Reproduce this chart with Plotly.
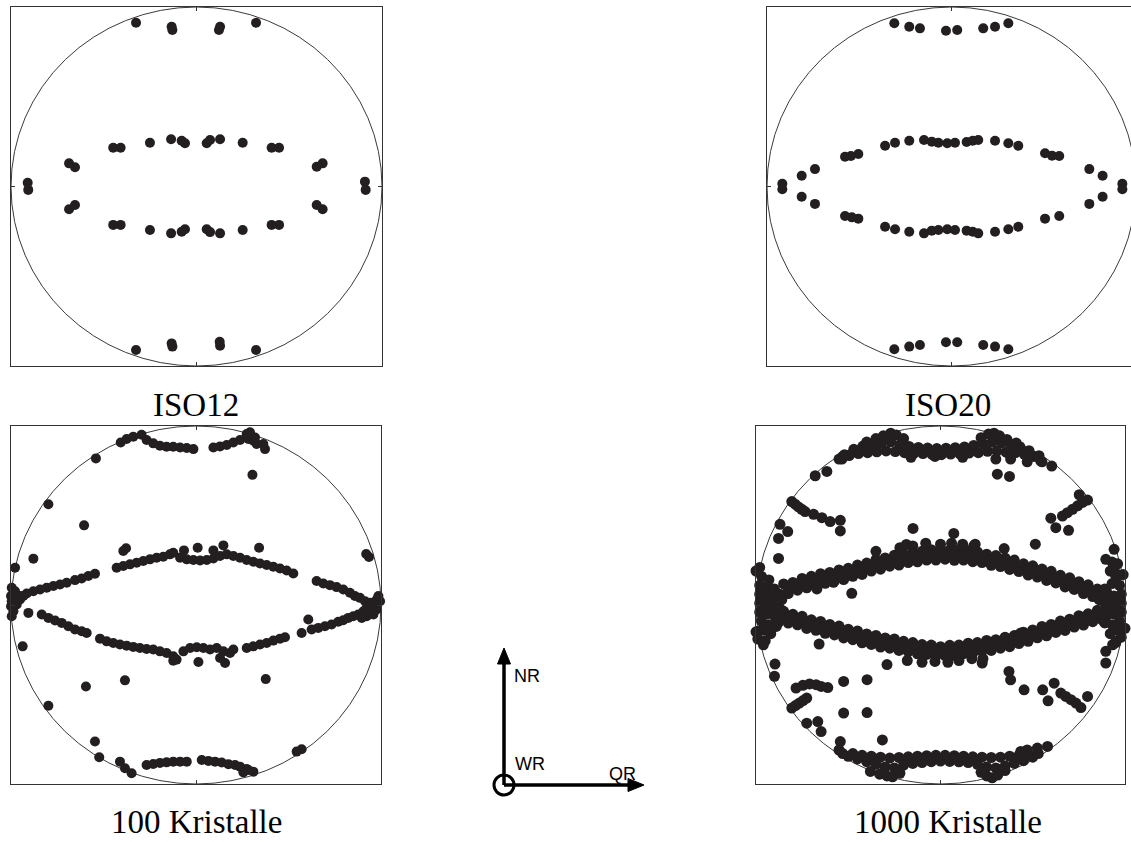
import plotly.graph_objects as go

W, H = 1131, 842

# ---------------- data (projection coordinates, unit circle) ----------------
# ISO12
tl_points = [(-0.326, 0.912), (-0.134, 0.890), (-0.130, 0.872), (0.127, 0.890), (0.121, 0.872), (0.321, 0.912),
             (-0.326, -0.911), (-0.134, -0.874), (-0.130, -0.892), (0.125, -0.865), (0.127, -0.887), (0.321, -0.911),
             (-0.449, 0.216), (-0.409, 0.216), (-0.251, 0.244), (-0.137, 0.263), (-0.080, 0.255), (-0.062, 0.241),
             (0.055, 0.241), (0.073, 0.259), (0.127, 0.263), (0.249, 0.244), (0.405, 0.216), (0.445, 0.216),
             (-0.687, 0.129), (-0.655, 0.107), (0.648, 0.110), (0.680, 0.129), (-0.910, 0.021), (-0.907, -0.019),
             (0.908, 0.027), (0.912, -0.019), (-0.687, -0.127), (-0.655, -0.103), (0.648, -0.103), (0.680, -0.127),
             (-0.449, -0.214), (-0.409, -0.214), (-0.251, -0.242), (-0.137, -0.261), (-0.080, -0.252), (-0.062, -0.238),
             (0.055, -0.238), (0.073, -0.254), (0.127, -0.261), (0.249, -0.242), (0.405, -0.214), (0.445, -0.214)]

# ISO20
tr_row_x = [-0.310, -0.229, -0.171, -0.030, 0.031, 0.172, 0.236, 0.308]
tr_top_y = [0.909, 0.890, 0.881, 0.868, 0.872, 0.881, 0.890, 0.909]
tr_bot_y = [-0.907, -0.892, -0.883, -0.868, -0.868, -0.883, -0.892, -0.907]
tr_mid_x = [-0.360, -0.306, -0.229, -0.149, -0.107, -0.071, -0.023, 0.019, 0.082, 0.115, 0.145, 0.236, 0.308, 0.362]
tr_mid_up_y = [0.227, 0.244, 0.255, 0.259, 0.250, 0.244, 0.241, 0.244, 0.248, 0.255, 0.259, 0.255, 0.241, 0.227]
tr_mid_lo_y = [-0.224, -0.238, -0.252, -0.261, -0.246, -0.242, -0.238, -0.242, -0.246, -0.252, -0.261, -0.252, -0.238, -0.224]
tr_side_points = [(-0.577, 0.166), (-0.545, 0.170), (-0.505, 0.181), (0.507, 0.185), (0.545, 0.172), (0.584, 0.170),
                  (-0.577, -0.164), (-0.505, -0.179), (-0.540, -0.172), (0.507, -0.179), (0.584, -0.164),
                  (-0.740, 0.097), (-0.812, 0.060), (-0.917, 0.015), (-0.917, -0.015), (-0.812, -0.057), (-0.740, -0.097),
                  (0.747, 0.097), (0.819, 0.060), (0.926, 0.015), (0.926, -0.015), (0.819, -0.057), (0.747, -0.097)]

# 100 Kristalle
bl_top_band = [(-0.407, 0.908), (-0.375, 0.927), (-0.339, 0.940), (-0.294, 0.951), (-0.267, 0.922), (-0.231, 0.903),
               (-0.195, 0.890), (-0.159, 0.884), (-0.123, 0.884), (-0.086, 0.880), (-0.050, 0.877), (-0.014, 0.871),
               (0.094, 0.880), (0.130, 0.886), (0.166, 0.894), (0.202, 0.908), (0.238, 0.922), (0.274, 0.955),
               (0.283, 0.927), (0.310, 0.918), (0.328, 0.899), (0.364, 0.899), (0.373, 0.871), (0.319, 0.936), (0.292, 0.965)]
bl_outliers = [(-0.541, 0.819), (0.305, 0.727), (-0.798, 0.563), (-0.605, 0.445), (-0.879, 0.259), (-0.978, 0.208),
               (0.935, 0.268), (0.920, 0.285), (0.341, 0.320), (0.009, 0.320), (-0.065, 0.305), (0.148, 0.333), (0.094, 0.305),
               (-0.378, 0.317), (-0.393, 0.302), (-0.937, -0.231), (-0.595, -0.455), (-0.384, -0.421), (-0.798, -0.563),
               (0.377, -0.414), (-0.546, -0.763), (-0.523, -0.851), (-0.411, -0.875), (-0.384, -0.912), (-0.348, -0.940),
               (0.571, -0.806), (0.544, -0.819)]
bl_upper_arc = [(-0.429, 0.208), (-0.393, 0.218), (-0.357, 0.227), (-0.321, 0.236), (-0.285, 0.246), (-0.249, 0.255),
                (-0.213, 0.264), (-0.177, 0.270), (-0.141, 0.283), (-0.123, 0.292), (-0.086, 0.264), (-0.050, 0.255),
                (-0.014, 0.251), (0.022, 0.249), (0.058, 0.251), (0.094, 0.260), (0.130, 0.274), (0.166, 0.283),
                (0.202, 0.274), (0.238, 0.264), (0.274, 0.251), (0.310, 0.242), (0.346, 0.232), (0.382, 0.223),
                (0.418, 0.214), (0.454, 0.204), (0.490, 0.193), (0.526, 0.176)]
bl_left_band = [(-0.987, 0.031), (-0.951, 0.050), (-0.915, 0.064), (-0.879, 0.077), (-0.843, 0.087), (-0.807, 0.096),
                (-0.771, 0.106), (-0.735, 0.115), (-0.699, 0.124), (-0.654, 0.139), (-0.618, 0.148), (-0.582, 0.162),
                (-0.546, 0.175), (-0.996, 0.096), (-0.978, 0.077), (-1.000, 0.050), (-0.996, 0.021), (-1.000, -0.007),
                (-0.987, -0.035), (-0.996, -0.063), (-0.969, 0.003), (-0.951, 0.031), (-0.933, 0.050), (-0.906, -0.044)]
bl_lower_arc = [(-0.834, -0.053), (-0.798, -0.072), (-0.762, -0.087), (-0.726, -0.100), (-0.690, -0.119), (-0.654, -0.137),
                (-0.618, -0.147), (-0.591, -0.156), (-0.519, -0.188), (-0.483, -0.203), (-0.447, -0.212), (-0.411, -0.221),
                (-0.375, -0.227), (-0.339, -0.234), (-0.303, -0.240), (-0.267, -0.246), (-0.231, -0.249), (-0.195, -0.259),
                (-0.159, -0.268), (-0.123, -0.287), (-0.105, -0.305), (-0.068, -0.259), (-0.032, -0.240), (0.004, -0.236),
                (0.040, -0.240), (0.076, -0.249), (0.112, -0.240), (0.148, -0.259), (0.184, -0.268), (0.202, -0.249),
                (0.157, -0.324), (0.130, -0.296), (0.013, -0.318), (-0.123, -0.311)]
bl_right_band = [(0.274, -0.240), (0.310, -0.231), (0.346, -0.221), (0.382, -0.212), (0.418, -0.199), (0.454, -0.188),
                 (0.481, -0.180), (0.571, -0.156), (0.625, -0.137), (0.661, -0.128), (0.697, -0.119), (0.733, -0.109),
                 (0.769, -0.094), (0.796, -0.085), (0.823, -0.072), (0.850, -0.063), (0.877, -0.053), (0.905, -0.035),
                 (0.923, -0.016), (0.941, -0.001), (0.959, 0.012), (0.977, 0.031), (0.986, 0.050), (0.607, -0.081),
                 (0.652, 0.134), (0.688, 0.120), (0.724, 0.111), (0.760, 0.100), (0.796, 0.087), (0.832, 0.068),
                 (0.859, 0.050), (0.886, 0.040), (0.914, 0.021), (0.941, 0.012), (0.977, 0.003), (0.995, 0.021),
                 (0.977, -0.025), (0.959, -0.053), (0.923, -0.063), (0.896, -0.072)]
bl_bottom_band = [(-0.267, -0.894), (-0.231, -0.888), (-0.195, -0.882), (-0.159, -0.879), (-0.123, -0.875), (-0.086, -0.875),
                  (-0.050, -0.875), (0.031, -0.866), (0.067, -0.871), (0.103, -0.875), (0.139, -0.880), (0.175, -0.889),
                  (0.211, -0.894), (0.238, -0.903), (0.274, -0.916), (0.310, -0.931), (0.256, -0.935), (0.283, -0.922)]

# 1000 Kristalle
br_arc_x1 = [-0.85, -0.80, -0.75, -0.70, -0.65, -0.60, -0.55, -0.50, -0.45, -0.40, -0.35, -0.30, -0.25, -0.20, -0.15, -0.10, -0.05, 0.00,
             0.05, 0.10, 0.15, 0.20, 0.25, 0.30, 0.35, 0.40, 0.45, 0.50, 0.55, 0.60, 0.65, 0.70, 0.75, 0.80, 0.85, 0.90]
br_arc_x2 = [-0.825, -0.775, -0.725, -0.675, -0.625, -0.575, -0.525, -0.475, -0.425, -0.375, -0.325, -0.275, -0.225, -0.175, -0.125,
             -0.075, -0.025, 0.025, 0.075, 0.125, 0.175, 0.225, 0.275, 0.325, 0.375, 0.425, 0.475, 0.525, 0.575, 0.625, 0.675,
             0.725, 0.775, 0.825, 0.875]
br_up_y1 = [0.118, 0.126, 0.148, 0.160, 0.175, 0.182, 0.196, 0.205, 0.223, 0.234, 0.253, 0.263, 0.278, 0.284, 0.298, 0.300, 0.309, 0.312,
            0.307, 0.308, 0.301, 0.297, 0.284, 0.276, 0.262, 0.251, 0.230, 0.219, 0.201, 0.188, 0.166, 0.152, 0.130, 0.113, 0.089, 0.075]
br_up_yc = [0.094, 0.111, 0.124, 0.141, 0.149, 0.163, 0.170, 0.188, 0.199, 0.218, 0.228, 0.245, 0.251, 0.265, 0.269, 0.279, 0.279, 0.284,
            0.278, 0.279, 0.270, 0.265, 0.250, 0.243, 0.227, 0.215, 0.195, 0.184, 0.165, 0.151, 0.129, 0.115, 0.092, 0.075, 0.052]
br_up_y2 = [0.064, 0.083, 0.096, 0.113, 0.121, 0.135, 0.142, 0.160, 0.171, 0.190, 0.200, 0.217, 0.223, 0.237, 0.241, 0.251, 0.251, 0.256,
            0.250, 0.251, 0.242, 0.237, 0.222, 0.215, 0.199, 0.187, 0.167, 0.156, 0.137, 0.123, 0.101, 0.087, 0.064, 0.047, 0.024]
br_lo_y1 = [-0.035, -0.052, -0.063, -0.083, -0.092, -0.109, -0.118, -0.135, -0.145, -0.162, -0.170, -0.184, -0.190, -0.203, -0.210,
            -0.221, -0.224, -0.233, -0.225, -0.224, -0.213, -0.210, -0.198, -0.194, -0.180, -0.171, -0.152, -0.139, -0.120, -0.109,
            -0.090, -0.079, -0.060, -0.049, -0.030, -0.019]
br_lo_yc = [-0.069, -0.087, -0.099, -0.117, -0.126, -0.143, -0.152, -0.170, -0.179, -0.196, -0.203, -0.217, -0.222, -0.236, -0.241,
            -0.252, -0.254, -0.259, -0.250, -0.248, -0.237, -0.234, -0.222, -0.217, -0.201, -0.191, -0.171, -0.159, -0.140, -0.129,
            -0.110, -0.099, -0.080, -0.069, -0.050]
br_lo_y2 = [-0.101, -0.111, -0.131, -0.141, -0.158, -0.167, -0.184, -0.194, -0.211, -0.220, -0.235, -0.241, -0.254, -0.260, -0.273,
            -0.276, -0.286, -0.283, -0.282, -0.272, -0.269, -0.258, -0.254, -0.241, -0.233, -0.215, -0.203, -0.183, -0.172, -0.153,
            -0.142, -0.123, -0.112, -0.093, -0.082]
br_top_xa = [-0.52, -0.47, -0.42, -0.37, -0.32, -0.27, -0.22, -0.17, -0.12, -0.07, -0.02, 0.03, 0.08, 0.13, 0.18, 0.23, 0.28, 0.33, 0.38, 0.43, 0.48]
br_top_ya = [0.840, 0.870, 0.888, 0.897, 0.905, 0.912, 0.895, 0.886, 0.880, 0.877, 0.874, 0.876, 0.879, 0.883, 0.891, 0.901, 0.910, 0.906, 0.896, 0.884, 0.862]
br_top_xb = [-0.495, -0.445, -0.395, -0.345, -0.295, -0.245, -0.195, -0.145, -0.095, -0.045, 0.005, 0.055, 0.105, 0.155, 0.205, 0.255, 0.305, 0.355, 0.405, 0.455, 0.505]
br_top_yb = [0.835, 0.846, 0.851, 0.856, 0.861, 0.857, 0.851, 0.847, 0.846, 0.841, 0.840, 0.843, 0.844, 0.849, 0.851, 0.859, 0.860, 0.854, 0.850, 0.841, 0.830]
br_top_extra = [(-0.40, 0.910), (-0.35, 0.930), (-0.31, 0.945), (-0.27, 0.960), (-0.24, 0.950), (-0.20, 0.930), (0.22, 0.935),
                (0.26, 0.955), (0.29, 0.960), (0.32, 0.945), (0.36, 0.925), (0.41, 0.905), (-0.53, 0.830), (-0.55, 0.815),
                (0.53, 0.830), (0.55, 0.800), (-0.16, 0.825), (-0.03, 0.830), (0.12, 0.825), (0.30, 0.815), (0.38, 0.815),
                (0.47, 0.800), (-0.534, 0.815), (0.543, 0.805), (0.603, 0.776), (0.534, 0.834)]
br_bot_xa = [-0.50, -0.45, -0.40, -0.35, -0.30, -0.25, -0.20, -0.15, -0.10, -0.05, 0.00, 0.05, 0.10, 0.15, 0.20, 0.25, 0.30, 0.35, 0.40, 0.45, 0.50]
br_bot_ya = [-0.845, -0.860, -0.875, -0.890, -0.905, -0.910, -0.895, -0.885, -0.880, -0.875, -0.872, -0.874, -0.876, -0.880, -0.890,
             -0.905, -0.910, -0.900, -0.885, -0.870, -0.850]
br_bot_xb = [-0.475, -0.425, -0.375, -0.325, -0.275, -0.225, -0.175, -0.125, -0.075, -0.025, 0.025, 0.075, 0.125, 0.175, 0.225, 0.275,
             0.325, 0.375, 0.425, 0.475]
br_bot_yb = [-0.830, -0.840, -0.845, -0.850, -0.855, -0.852, -0.848, -0.845, -0.842, -0.840, -0.840, -0.842, -0.845, -0.848, -0.850,
             -0.852, -0.850, -0.845, -0.840, -0.830]
br_bot_extra = [(-0.38, -0.930), (-0.33, -0.945), (-0.29, -0.955), (-0.26, -0.960), (-0.22, -0.940), (0.22, -0.935), (0.25, -0.955),
                (0.28, -0.965), (0.31, -0.950), (0.35, -0.925), (-0.53, -0.830), (-0.55, -0.810), (0.53, -0.830), (0.47, -0.810),
                (0.435, -0.818), (0.525, -0.799), (0.580, -0.790)]
br_mid_blobs = [(-0.15, 0.330), (-0.08, 0.345), (0.00, 0.340), (0.06, 0.345), (0.12, 0.340), (0.18, 0.330), (-0.22, 0.320),
                (-0.18, -0.310), (-0.10, -0.320), (-0.03, -0.315), (0.04, -0.320), (0.10, -0.310), (0.17, -0.300), (0.23, -0.300)]
br_left_cluster = [(-1.01, 0.15), (-0.97, 0.16), (-0.93, 0.14), (-1.02, 0.10), (-0.98, 0.11), (-0.94, 0.10), (-0.90, 0.09),
                   (-1.02, 0.05), (-0.98, 0.06), (-0.94, 0.05), (-0.90, 0.04), (-0.87, 0.06), (-1.02, 0.00), (-0.98, 0.01),
                   (-0.94, 0.00), (-0.90, -0.01), (-0.87, -0.02), (-1.02, -0.05), (-0.98, -0.04), (-0.94, -0.05),
                   (-0.90, -0.06), (-0.87, -0.07), (-1.01, -0.10), (-0.97, -0.09), (-0.93, -0.11), (-0.89, -0.12),
                   (-1.00, -0.15), (-0.96, -0.14), (-0.92, -0.16), (-0.99, -0.19), (-0.95, -0.20), (-0.86, 0.03),
                   (-0.88, -0.10), (-0.98, 0.21), (-1.00, 0.19)]
br_right_cluster = [(0.99, 0.17), (0.95, 0.16), (0.92, 0.19), (1.01, 0.12), (0.97, 0.11), (0.93, 0.12), (0.89, 0.09),
                    (1.02, 0.07), (0.98, 0.06), (0.94, 0.05), (0.90, 0.04), (0.86, 0.03), (1.02, 0.02), (0.98, 0.01),
                    (0.94, 0.00), (0.90, -0.01), (1.02, -0.03), (0.98, -0.04), (0.94, -0.05), (0.90, -0.06), (1.01, -0.08),
                    (0.97, -0.09), (0.93, -0.11), (0.89, -0.10), (1.00, -0.13), (0.96, -0.14), (0.92, -0.16), (0.98, -0.18),
                    (0.95, -0.21), (0.93, 0.24), (0.96, 0.23)]
br_streaks = [(-0.806, 0.578), (-0.788, 0.563), (-0.770, 0.548), (-0.752, 0.535), (-0.734, 0.522),
              (-0.688, 0.507), (-0.643, 0.488), (-0.598, 0.466), (-0.543, 0.473), (-0.543, 0.414),
              (0.661, 0.497), (0.688, 0.516), (0.716, 0.535), (0.743, 0.554), (0.770, 0.573), (0.797, 0.586), (0.752, 0.616),
              (-0.783, -0.464), (-0.746, -0.449), (-0.710, -0.441), (-0.674, -0.445), (-0.647, -0.455), (-0.611, -0.461),
              (-0.806, -0.576), (-0.786, -0.562), (-0.765, -0.548), (-0.745, -0.534), (-0.725, -0.520),
              (0.652, -0.492), (0.679, -0.511), (0.707, -0.529), (0.734, -0.548), (0.761, -0.573), (0.797, -0.511)]
br_outliers = [(-0.870, 0.451), (-0.828, 0.410), (-0.878, 0.372), (-0.878, 0.260), (-0.679, 0.722), (-0.616, 0.746),
               (0.598, 0.485), (0.625, 0.432), (0.694, 0.417), (0.308, 0.731), (0.374, 0.718), (0.941, 0.311),
               (0.896, 0.255), (0.941, 0.206), (0.968, 0.168), (-0.149, 0.428), (0.072, 0.400), (-0.185, 0.338),
               (-0.350, 0.300), (0.345, 0.315), (0.514, 0.340), (0.188, 0.340), (-0.481, 0.065), (-0.580, 0.127),
               (-0.670, 0.090), (-0.658, -0.218), (-0.290, -0.333), (0.226, -0.324), (0.435, -0.156), (0.371, -0.371),
               (0.380, -0.418), (0.453, -0.474), (-0.897, -0.330), (-0.900, -0.398), (0.896, -0.259), (0.896, -0.324),
               (0.933, -0.222), (0.951, -0.203), (-0.987, -0.147), (-0.960, -0.222), (-0.525, -0.427), (-0.398, -0.417),
               (-0.525, -0.604), (-0.398, -0.601), (-0.725, -0.660), (-0.665, -0.651), (-0.647, -0.707), (-0.543, -0.763),
               (-0.315, -0.754), (0.554, -0.474), (0.616, -0.437), (0.583, -0.535)]

panel_labels = ["ISO12", "ISO20", "100 Kristalle", "1000 Kristalle"]
axis_labels = ["NR", "WR", "QR"]

# ---------------- figure ----------------
DOT = dict(size=10, color="#231f20", line=dict(width=0))
DOT_BIG = dict(size=11, color="#231f20", line=dict(width=0))


def split(pts):
    return [p[0] for p in pts], [p[1] for p in pts]


fig = go.Figure()


def add(xs, ys, ax, marker=DOT):
    fig.add_trace(go.Scatter(x=xs, y=ys, mode="markers", marker=marker, xaxis="x" + ax, yaxis="y" + ax,
                             cliponaxis=False, showlegend=False, hoverinfo="skip"))


add(*split(tl_points), "")
add(tr_row_x + tr_row_x, tr_top_y + tr_bot_y, "2")
add(tr_mid_x + tr_mid_x, tr_mid_up_y + tr_mid_lo_y, "2")
add(*split(tr_side_points), "2")
for grp in [bl_top_band, bl_outliers, bl_upper_arc, bl_left_band, bl_lower_arc, bl_right_band, bl_bottom_band]:
    add(*split(grp), "3")
add(br_arc_x1 + br_arc_x2 + br_arc_x2, br_up_y1 + br_up_yc + br_up_y2, "4", DOT_BIG)
add(br_arc_x1 + br_arc_x2 + br_arc_x2, br_lo_y1 + br_lo_yc + br_lo_y2, "4", DOT_BIG)
add(br_top_xa + br_top_xb, br_top_ya + br_top_yb, "4", DOT_BIG)
add(br_bot_xa + br_bot_xb, br_bot_ya + br_bot_yb, "4", DOT_BIG)
for grp in [br_top_extra, br_bot_extra, br_mid_blobs, br_left_cluster, br_right_cluster, br_streaks, br_outliers]:
    add(*split(grp), "4", DOT_BIG)


def px(v):
    return v / W


def py(v):
    return 1 - v / H


# panel boxes in page pixels: (left, right, top, bottom)
boxes = {"": (11, 382, 7, 366), "2": (767, 1131, 7, 366), "3": (11, 381, 426, 784), "4": (756, 1125, 426, 784)}
xr = {"": [-1, 1], "2": [-1, (1131 - 951.5) / 184.5], "3": [-1, 1], "4": [-1, 1]}

lay = dict(width=W, height=H, margin=dict(l=0, r=0, t=0, b=0), paper_bgcolor="white", plot_bgcolor="white",
           autosize=False, showlegend=False)
for k, (l, r, t, b) in boxes.items():
    common = dict(showgrid=False, zeroline=False, showticklabels=False, tickvals=[0], ticks="inside", ticklen=4,
                  tickwidth=1, tickcolor="#333", showline=True, linecolor="#333", linewidth=1.3, fixedrange=True)
    lay["xaxis" + k] = dict(domain=[px(l), px(r)], range=xr[k], anchor="y" + k, mirror="ticks", **common)
    lay["yaxis" + k] = dict(domain=[py(b), py(t)], range=[-1, 1], anchor="x" + k,
                            mirror=("ticks" if k != "2" else False), **common)
fig.update_layout(**lay)

shapes = []
for k in boxes:
    shapes.append(dict(type="circle", xref="x" + k, yref="y" + k, x0=-1, x1=1, y0=-1, y1=1,
                       line=dict(color="#3a3a3a", width=1), layer="below"))

# coordinate-system sketch (page pixels)
ox, oy = 504, 785
shapes.append(dict(type="circle", xref="paper", yref="paper", x0=px(ox - 10), x1=px(ox + 10), y0=py(oy + 10), y1=py(oy - 10),
                   line=dict(color="black", width=3)))
shapes.append(dict(type="line", xref="paper", yref="paper", x0=px(ox), x1=px(ox), y0=py(oy), y1=py(661),
                   line=dict(color="black", width=3.5)))
shapes.append(dict(type="line", xref="paper", yref="paper", x0=px(ox), x1=px(630), y0=py(oy), y1=py(oy),
                   line=dict(color="black", width=3.5)))
shapes.append(dict(type="path", xref="paper", yref="paper", fillcolor="black", line=dict(color="black", width=1),
                   path=f"M {px(ox)} {py(648)} L {px(ox - 6.5)} {py(664)} L {px(ox + 6.5)} {py(664)} Z"))
shapes.append(dict(type="path", xref="paper", yref="paper", fillcolor="black", line=dict(color="black", width=1),
                   path=f"M {px(644)} {py(oy)} L {px(628)} {py(oy - 6.5)} L {px(628)} {py(oy + 6.5)} Z"))
fig.update_layout(shapes=shapes)

serif = dict(family="Liberation Serif, Times New Roman, serif", size=33, color="black")
sans = dict(family="Liberation Sans, Arial, sans-serif", size=18, color="black")
ann = []
for txt, (cx, cy) in zip(panel_labels, [(196, 405), (948, 405), (196, 822), (948, 822)]):
    ann.append(dict(text=txt, x=px(cx), y=py(cy), xref="paper", yref="paper", showarrow=False,
                    xanchor="center", yanchor="middle", font=serif))
for txt, (lx, ly) in zip(axis_labels, [(512, 676), (513, 764), (607, 774)]):
    ann.append(dict(text=txt, x=px(lx), y=py(ly), xref="paper", yref="paper", showarrow=False,
                    xanchor="left", yanchor="middle", font=sans))
fig.update_layout(annotations=ann)

fig.write_html("out.html", config={"displayModeBar": False, "staticPlot": True},
               post_script="document.body.style.margin='0px';document.body.style.overflow='hidden';")
